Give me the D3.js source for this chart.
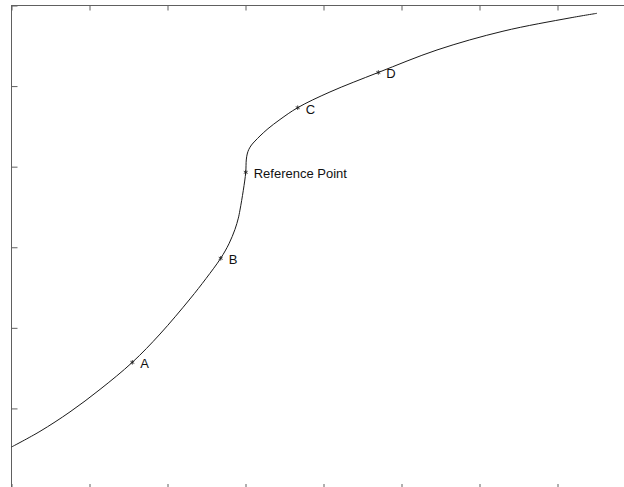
<!DOCTYPE html>
<html>
<head>
<meta charset="utf-8">
<script src="https://cdn.jsdelivr.net/npm/d3@7"></script>
<style>
  html, body { margin: 0; padding: 0; background: #fff; }
  svg { display: block; }
</style>
</head>
<body>
<svg id="chart" width="624" height="487"></svg>
<script>
// Curve samples (data units)
const curveX = [0.000, 0.365, 0.750, 1.135, 1.549, 1.904, 2.288, 2.494, 2.682, 2.788, 2.865, 2.908, 2.929, 2.972, 3.003, 3.010, 3.022, 3.042, 3.077, 3.122, 3.186, 3.288, 3.442, 3.669, 4.083, 4.703, 5.455, 6.301, 7.160, 7.506];
const curveY = [0.521, 0.715, 0.957, 1.236, 1.572, 1.923, 2.358, 2.612, 2.863, 3.043, 3.222, 3.361, 3.461, 3.707, 3.930, 4.083, 4.157, 4.213, 4.269, 4.318, 4.381, 4.471, 4.585, 4.732, 4.927, 5.169, 5.448, 5.681, 5.846, 5.903];

// Labelled points
const pointNames = ["A", "B", "Reference Point", "C", "D"];
const pointX = [1.549, 2.682, 3.003, 3.669, 4.703];
const pointY = [1.572, 2.863, 3.930, 4.732, 5.169];

// Axis ticks (no labels)
const xTicks = [0, 1, 2, 3, 4, 5, 6, 7, 8];
const yTicks = [0, 1, 2, 3, 4, 5, 6];

(function () {
const svg = d3.select("#chart");
const pLeft = 11.5, pTop = 5.5, pRight = 635.5, pBottom = 489;
const x = d3.scaleLinear().domain([0, 8]).range([pLeft, pRight]);
const y = d3.scaleLinear().domain([0, 6]).range([pBottom, pTop]);

const axisColor = "#606060";

// Box
svg.append("rect")
  .attr("x", pLeft).attr("y", pTop)
  .attr("width", pRight - pLeft).attr("height", pBottom - pTop)
  .attr("fill", "none").attr("stroke", axisColor).attr("stroke-width", 1);

function styleAxis(g) {
  g.select(".domain").remove();
  g.selectAll(".tick line").attr("stroke", axisColor);
  g.selectAll(".tick text").remove();
}

svg.append("g").attr("transform", `translate(0,${pTop})`)
  .call(d3.axisTop(x).tickValues(xTicks).tickSize(-5).tickFormat(""))
  .call(styleAxis);
svg.append("g").attr("transform", `translate(0,${pBottom})`)
  .call(d3.axisBottom(x).tickValues(xTicks).tickSize(-5).tickFormat(""))
  .call(styleAxis);
svg.append("g").attr("transform", `translate(${pLeft},0)`)
  .call(d3.axisLeft(y).tickValues(yTicks).tickSize(-6).tickFormat(""))
  .call(styleAxis);
svg.append("g").attr("transform", `translate(${pRight},0)`)
  .call(d3.axisRight(y).tickValues(yTicks).tickSize(-6).tickFormat(""))
  .call(styleAxis);

// Curve
const pts = curveX.map((v, i) => [v, curveY[i]]);
const line = d3.line().x(d => x(d[0])).y(d => y(d[1])).curve(d3.curveCatmullRom.alpha(0.5));
svg.append("path").datum(pts)
  .attr("d", line)
  .attr("fill", "none").attr("stroke", "#1a1a1a").attr("stroke-width", 1);

// Markers
const sym = d3.symbol().type(d3.symbolAsterisk || d3.symbolCross).size(14);
const pdata = pointNames.map((n, i) => ({ name: n, x: pointX[i], y: pointY[i] }));
svg.selectAll(".mk").data(pdata).enter().append("path")
  .attr("class", "mk")
  .attr("transform", d => `translate(${x(d.x)},${y(d.y)})`)
  .attr("d", sym)
  .attr("fill", "none").attr("stroke", "#1a1a1a").attr("stroke-width", 0.8);

svg.selectAll(".lb").data(pdata).enter().append("text")
  .attr("class", "lb")
  .attr("x", d => x(d.x) + 8)
  .attr("y", d => y(d.y) + 6)
  .attr("font-family", "Liberation Sans, Arial, sans-serif")
  .attr("font-size", 13)
  .attr("fill", "#111")
  .text(d => d.name);
})();
</script>
</body>
</html>
